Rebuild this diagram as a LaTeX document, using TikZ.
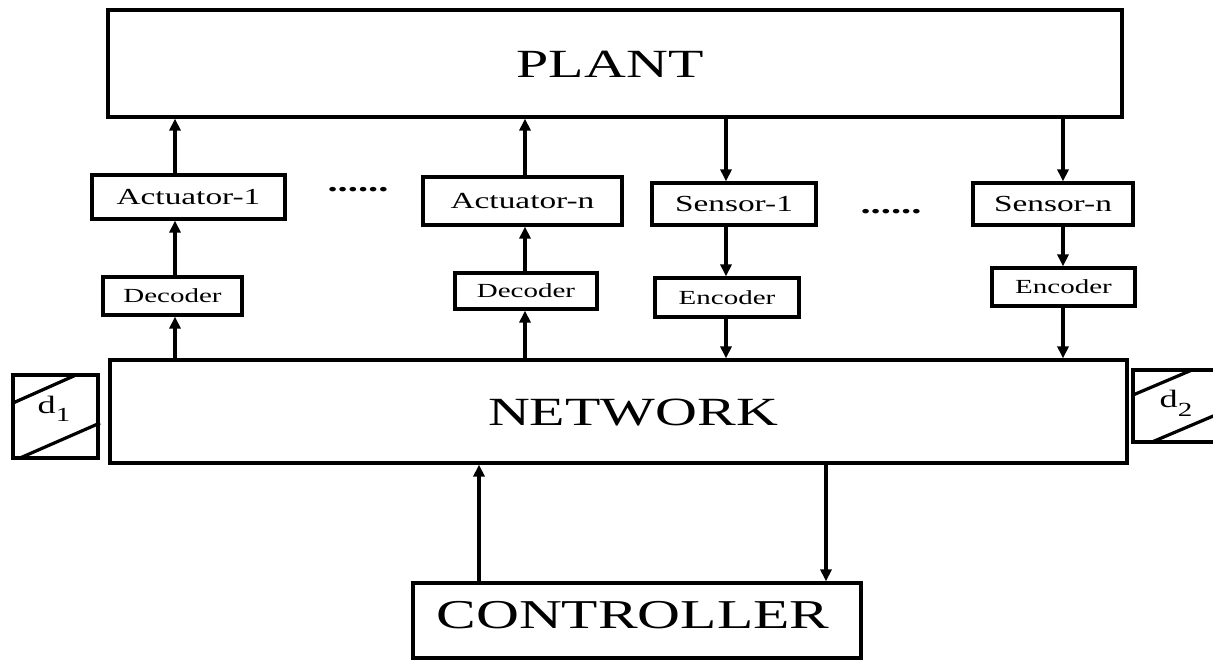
\documentclass[tikz,border=0pt]{standalone}
\usepackage{fontspec}
\setmainfont{Liberation Serif}[FakeStretch=1.45]
\usetikzlibrary{arrows.meta}
\begin{document}
\begin{tikzpicture}[x=1pt,y=-1pt,
  box/.style={draw,line width=3.2pt,inner sep=0pt,anchor=center},
  conn/.style={line width=3.2pt,-{Triangle[length=12pt,width=11pt]}},
  thin/.style={line width=3.2pt},
  big/.style={font=\fontsize{40}{44}\selectfont},
  mid/.style={font=\fontsize{23}{25}\selectfont},
  sml/.style={font=\fontsize{20}{22}\selectfont},
  dotsty/.style={font=\fontsize{28}{30}\selectfont\bfseries}]
\useasboundingbox (0,0) rectangle (1213,660);

% main boxes
\node[box,minimum width=1014pt,minimum height=107pt] (plant) at (615,63.5) {};
\node[big] (plantT) at (610,64) {PLANT};
\node[box,minimum width=1017pt,minimum height=103pt] (net) at (618.5,411.5) {};
\node[big] (netT) at (633,413) {NETWORK};
\node[box,minimum width=448pt,minimum height=75pt] (ctrl) at (637,620.5) {};
\node[big,font=\fontsize{41}{44}\selectfont] (ctrlT) at (633,615) {CONTROLLER};

% actuators / sensors
\node[box,mid,minimum width=193pt,minimum height=44pt] (act1) at (188.5,197) {Actuator-1};
\node[box,sml,minimum width=139pt,minimum height=38pt] (dec1) at (172.5,296) {Decoder};
\node[box,mid,minimum width=199pt,minimum height=48pt] (actn) at (522.5,201) {Actuator-n};
\node[box,sml,minimum width=142pt,minimum height=36pt] (decn) at (526,291) {Decoder};
\node[box,mid,minimum width=164pt,minimum height=42pt] (sen1) at (734,204) {Sensor-1};
\node[box,sml,minimum width=144pt,minimum height=39pt] (enc1) at (727,297.5) {Encoder};
\node[box,mid,minimum width=160pt,minimum height=42pt] (senn) at (1053,204) {Sensor-n};
\node[box,sml,minimum width=143pt,minimum height=38pt] (encn) at (1063.5,287) {Encoder};

\node[dotsty] (dots1) at (358,190) {......};
\node[dotsty] (dots2) at (891,212) {......};

% columns
\coordinate (ca1) at (175,0);
\coordinate (can) at (525,0);
\coordinate (cs1) at (726,0);
\coordinate (csn) at (1063,0);
\coordinate (cup) at (479,0);
\coordinate (cdn) at (826,0);

\draw[conn] (ca1 |- net.north) -- (ca1 |- dec1.south);
\draw[conn] (ca1 |- dec1.north) -- (ca1 |- act1.south);
\draw[conn] (ca1 |- act1.north) -- (ca1 |- plant.south);

\draw[conn] (can |- net.north) -- (can |- decn.south);
\draw[conn] (can |- decn.north) -- (can |- actn.south);
\draw[conn] (can |- actn.north) -- (can |- plant.south);

\draw[conn] (cs1 |- plant.south) -- (cs1 |- sen1.north);
\draw[conn] (cs1 |- sen1.south) -- (cs1 |- enc1.north);
\draw[conn] (cs1 |- enc1.south) -- (cs1 |- net.north);

\draw[conn] (csn |- plant.south) -- (csn |- senn.north);
\draw[conn] (csn |- senn.south) -- (csn |- encn.north);
\draw[conn] (csn |- encn.south) -- (csn |- net.north);

\draw[conn] (cup |- ctrl.north) -- (cup |- net.south);
\draw[conn] (cdn |- net.south) -- (cdn |- ctrl.north);

% delay boxes
\node[box,minimum width=85pt,minimum height=83pt] (d1) at (55.5,416.5) {};
\draw[thin] (13,403) -- (76,375);
\draw[thin] (20,458) -- (100,423);
\node[font=\fontsize{25}{27}\selectfont,anchor=base] (d1T) at (54,413) {d\raisebox{-9pt}{\fontsize{20}{22}\selectfont 1}};

\draw[thin] (1220,370) -- (1133,370) -- (1133,442) -- (1220,442);
\draw[thin] (1133,395) -- (1192,370);
\draw[thin] (1152,442) -- (1225,411);
\node[font=\fontsize{25}{27}\selectfont,anchor=base] (d2T) at (1176,407) {d\raisebox{-9pt}{\fontsize{20}{22}\selectfont 2}};
\end{tikzpicture}
\end{document}
